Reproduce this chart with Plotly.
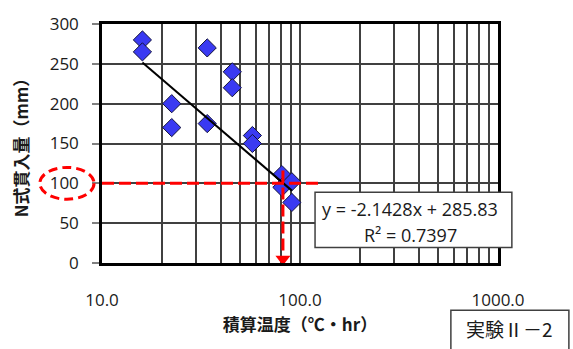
import plotly.graph_objects as go

# Accumulated temperature (°C·hr) and N-type penetration (mm), experiment II-2
temp_chr = [16, 16, 22.5, 22.5, 34, 34, 45.5, 45.5, 57.5, 57.5, 81, 81, 91, 91]
penetration_mm = [280, 265, 200, 170, 270, 175, 240, 220, 160, 150, 111, 95, 102, 76]

# Linear trendline as reported
slope = -2.1428
intercept = 285.83
r_squared = 0.7397

# Reference reading: penetration of 100 mm -> accumulated temperature
ref_penetration = 100
ref_temp = 82
ref_line_end_x = 130
ref_line_top_y = 116

# Axis ticks
x_tickvals = [10, 20, 30, 40, 50, 60, 70, 80, 90,
              100, 200, 300, 400, 500, 600, 700, 800, 900, 1000]
x_ticktext = ["10.0"] + [""] * 8 + ["100.0"] + [""] * 8 + ["1000.0"]
y_tickvals = [0, 50, 100, 150, 200, 250, 300]

TXT = "#1a1a1a"
GRID = "#404040"
RED = "#ff0000"
LATIN = "Open Sans, Liberation Sans, sans-serif"
CJK = "Noto Sans CJK JP, sans-serif"

fig = go.Figure()

# Measured points
fig.add_trace(go.Scatter(
    x=temp_chr, y=penetration_mm, mode="markers",
    marker=dict(symbol="diamond", size=14, color="#3a3af2",
                line=dict(color="#14143c", width=1)),
    showlegend=False, hoverinfo="x+y",
))

# Trendline between the extreme x values
x_fit = [min(temp_chr), max(temp_chr)]
y_fit = [slope * v + intercept for v in x_fit]
fig.add_trace(go.Scatter(
    x=x_fit, y=y_fit, mode="lines",
    line=dict(color="black", width=2),
    showlegend=False, hoverinfo="skip",
))

# Red guide lines at 100 mm
fig.add_trace(go.Scatter(
    x=[10, ref_line_end_x], y=[ref_penetration, ref_penetration], mode="lines",
    line=dict(color=RED, width=3, dash="12px,5px"),
    showlegend=False, hoverinfo="skip",
))
fig.add_trace(go.Scatter(
    x=[ref_temp, ref_temp], y=[ref_line_top_y, 12], mode="lines",
    line=dict(color=RED, width=3, dash="12px,5px"),
    showlegend=False, hoverinfo="skip",
))
# Arrowhead pointing down to the temperature axis
fig.add_trace(go.Scatter(
    x=[ref_temp], y=[5], mode="markers",
    marker=dict(symbol="triangle-down", size=13, color=RED, line=dict(width=0)),
    cliponaxis=False, showlegend=False, hoverinfo="skip",
))

# Dashed ellipse around the 100 tick label
fig.add_shape(
    type="circle", xref="paper", yref="y",
    x0=-0.157, x1=-0.020, y0=80, y1=120,
    line=dict(color=RED, width=3, dash="9px,5px"),
    layer="above",
)

# Trendline equation box
fig.add_shape(
    type="rect", xref="paper", yref="paper",
    x0=0.538, x1=1.035, y0=0.065, y1=0.296,
    fillcolor="white", line=dict(color=GRID, width=1.5), layer="above",
)
fig.add_annotation(
    x=0.778, y=0.227, xref="paper", yref="paper", showarrow=False,
    xanchor="center", yanchor="middle",
    text=f"y = {slope}x + {intercept}",
    font=dict(family=LATIN, size=18, color=TXT),
)
fig.add_annotation(
    x=0.778, y=0.117, xref="paper", yref="paper", showarrow=False,
    xanchor="center", yanchor="middle",
    text=f"R² = {r_squared}",
    font=dict(family=LATIN, size=18, color=TXT),
)

# Experiment label box
fig.add_shape(
    type="rect", xref="paper", yref="paper",
    x0=0.881, x1=1.179, y0=-0.40, y1=-0.198,
    fillcolor="white", line=dict(color=GRID, width=1.5), layer="above",
)
fig.add_annotation(
    x=1.03, y=-0.275, xref="paper", yref="paper", showarrow=False,
    xanchor="center", yanchor="middle",
    text="実験Ⅱ－2",
    font=dict(family=CJK, size=19, color=TXT),
)

fig.update_layout(
    width=573, height=349,
    margin=dict(l=102, r=75, t=16, b=86),
    paper_bgcolor="white", plot_bgcolor="white",
    xaxis=dict(
        type="log", range=[1, 3],
        tickvals=x_tickvals, ticktext=x_ticktext, ticks="",
        ticklabelstandoff=20,
        showgrid=True, gridcolor=GRID, gridwidth=1.5,
        showline=True, linecolor="black", linewidth=2.5, mirror=True,
        zeroline=False,
        tickfont=dict(family=LATIN, size=17, color=TXT),
        title=dict(text="<b>積算温度（℃・hr）</b>", standoff=6,
                   font=dict(family=CJK, size=17, color=TXT)),
    ),
    yaxis=dict(
        range=[0, 300], tickvals=y_tickvals,
        ticks="outside", ticklen=7, tickwidth=1.5, tickcolor="#808080",
        ticklabelstandoff=10,
        showgrid=True, gridcolor=GRID, gridwidth=1.5,
        showline=True, linecolor="black", linewidth=2.5, mirror=True,
        zeroline=False,
        tickfont=dict(family=LATIN, size=17, color=TXT),
        title=dict(text="<b>N式貫入量（mm）</b>", standoff=17,
                   font=dict(family=CJK, size=17, color=TXT)),
    ),
)

fig.write_html("out.html")
